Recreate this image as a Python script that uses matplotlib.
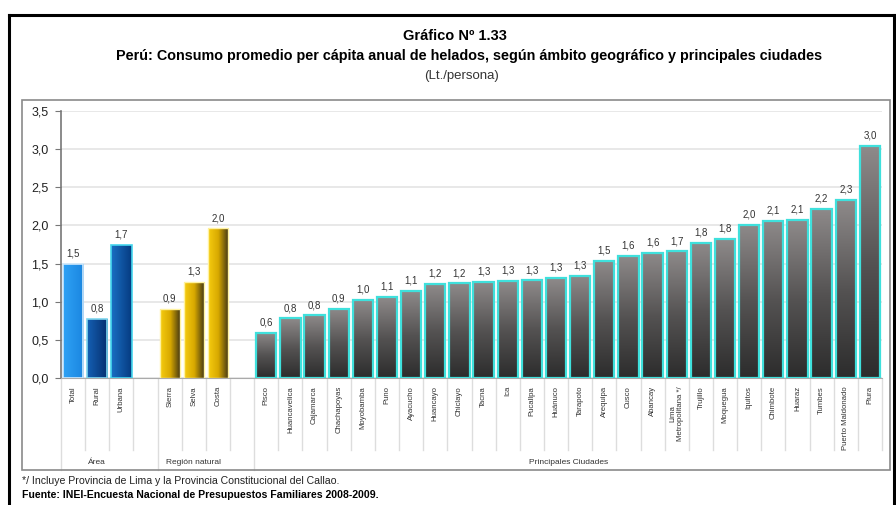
import numpy as np
import matplotlib
matplotlib.use("Agg")
import matplotlib.pyplot as plt
from matplotlib.colors import LinearSegmentedColormap
from matplotlib.patches import Rectangle
from matplotlib.lines import Line2D
import matplotlib.transforms as mtransforms
from matplotlib import font_manager

# ---- data -------------------------------------------------------------
area_labels = ["Total", "Rural", "Urbana"]
area_values = [1.50, 0.77, 1.74]

region_labels = ["Sierra", "Selva", "Costa"]
region_values = [0.91, 1.26, 1.96]

city_labels = ["Pisco", "Huancavelica", "Cajamarca", "Chachapoyas", "Moyobamba",
               "Puno", "Ayacucho", "Huancayo", "Chiclayo", "Tacna", "Ica",
               "Pucallpa", "Huánuco", "Tarapoto", "Arequipa", "Cusco", "Abancay",
               "Lima\nMetropolitana */", "Trujillo", "Moquegua", "Iquitos",
               "Chimbote", "Huaraz", "Tumbes", "Puerto Maldonado", "Piura"]
city_values = [0.59, 0.78, 0.82, 0.91, 1.02, 1.06, 1.14, 1.23, 1.24, 1.26, 1.27,
               1.28, 1.31, 1.34, 1.54, 1.60, 1.64, 1.66, 1.77, 1.82, 2.01, 2.06,
               2.07, 2.22, 2.33, 3.04]

group_names = ["Área", "Región natural", "Principales Ciudades"]
y_ticks = [0.0, 0.5, 1.0, 1.5, 2.0, 2.5, 3.0, 3.5]

title = "Gráfico Nº 1.33"
subtitle = "Perú: Consumo promedio per cápita anual de helados, según ámbito geográfico y principales ciudades"
unit = "(Lt./persona)"
note = "*/ Incluye Provincia de Lima y la Provincia Constitucional del Callao."
source = "Fuente: INEI-Encuesta Nacional de Presupuestos Familiares 2008-2009."

# ---- fonts ------------------------------------------------------------
names = {f.name for f in font_manager.fontManager.ttflist}
narrow = "Liberation Sans Narrow" if "Liberation Sans Narrow" in names else "Liberation Sans"
plt.rcParams["font.family"] = [narrow, "DejaVu Sans"]

W, H = 896, 505
fig = plt.figure(figsize=(W / 100, H / 100), dpi=100)
fig.patch.set_facecolor("white")


def fx(px):
    return px / W


def fy(py):
    return 1 - py / H


# outer frame and plot frame
fig.add_artist(Line2D([fx(9), fx(9)], [fy(15), fy(520)], color="black", lw=2.2))
fig.add_artist(Line2D([fx(9), fx(894)], [fy(15), fy(15)], color="black", lw=2.2))
fig.add_artist(Line2D([fx(894), fx(894)], [fy(15), fy(520)], color="black", lw=2.2))
fig.add_artist(Rectangle((fx(22), fy(470)), fx(890) - fx(22), fy(100) - fy(470),
                         transform=fig.transFigure, fill=False, ec="#8a8a8a", lw=1.2))

# titles
fig.text(fx(455), fy(36), title, ha="center", va="center", fontsize=10.5, fontweight="bold")
fig.text(fx(469), fy(56), subtitle, ha="center", va="center", fontsize=10.4, fontweight="bold")
fig.text(fx(461), fy(76), unit, ha="center", va="center", fontsize=9.5, color="#333333")
fig.text(fx(22), fy(481), note, ha="left", va="center", fontsize=7.6, color="#222222")
fig.text(fx(22), fy(495), source, ha="left", va="center", fontsize=7.6, fontweight="bold")

# ---- axes -------------------------------------------------------------
ax_left, ax_right = 61, 882
ax_top, ax_bot = 111, 378
ax = fig.add_axes([fx(ax_left), fy(ax_bot), fx(ax_right) - fx(ax_left), fy(ax_top) - fy(ax_bot)])

n_slots = len(area_values) + 1 + len(region_values) + 1 + len(city_values)
area_x = np.arange(len(area_values))
region_x = np.arange(len(region_values)) + len(area_values) + 1
city_x = np.arange(len(city_values)) + len(area_values) + len(region_values) + 2

ax.set_xlim(-0.5, n_slots - 0.5)
ax.set_ylim(0, 3.5)
ax.set_yticks(y_ticks)
ax.set_yticklabels([f"{t:.1f}".replace(".", ",") for t in y_ticks], fontsize=9, color="#222222")
ax.tick_params(axis="y", direction="out", length=4, color="#777777", pad=5)
ax.set_xticks([])
ax.grid(axis="y", color="#e4e4e4", lw=1.2)
ax.set_axisbelow(True)
for s in ["top", "right"]:
    ax.spines[s].set_visible(False)
ax.spines["left"].set_color("#777777")
ax.spines["bottom"].set_color("#aaaaaa")
ax.spines["left"].set_linewidth(1.2)

bw = 0.84


def gradient_bars(xs, vals, cmaps, direction, edge, lw):
    bars = ax.bar(xs, vals, width=bw, facecolor="none", edgecolor=edge, linewidth=lw, zorder=3)
    for b, cm in zip(bars, cmaps):
        x0, y0 = b.get_xy()
        w, h = b.get_width(), b.get_height()
        if direction == "h":
            g = np.linspace(0, 1, 128).reshape(1, -1)
        else:
            g = np.linspace(0, 1, 128).reshape(-1, 1)
        im = ax.imshow(g, extent=[x0, x0 + w, y0, y0 + h], origin="lower", cmap=cm,
                       aspect="auto", zorder=2.5, interpolation="bilinear")
        im.set_clip_path(b)
    return bars


blue_maps = [LinearSegmentedColormap.from_list("t", ["#2fa2f5", "#1a86e0"]),
             LinearSegmentedColormap.from_list("r", ["#1460b4", "#062f6e"]),
             LinearSegmentedColormap.from_list("u", ["#1a6fc4", "#053a80"])]
gold = LinearSegmentedColormap.from_list("g", ["#f7cd10", "#d7a800", "#3d3214"])
gray = LinearSegmentedColormap.from_list("k", ["#2c2c2c", "#555353", "#8e8a8a"])

gradient_bars(area_x, area_values, blue_maps, "h", ["#cfe8fb", "#7fd7ef", "#45d6ee"], 1.2)
gradient_bars(region_x, region_values, [gold] * 3, "h", "#fff2a0", 1.0)
gradient_bars(city_x, city_values, [gray] * len(city_values), "v", "#3fe0dc", 1.6)

ax.set_xlim(-0.5, n_slots - 0.5)
ax.set_ylim(0, 3.5)


def lab(v):
    return f"{v:.1f}".replace(".", ",")


for xs, vals in [(area_x, area_values), (region_x, region_values), (city_x, city_values)]:
    for x, v in zip(xs, vals):
        ax.text(x, v + 0.07, lab(v), ha="center", va="bottom", fontsize=7, color="#333333")

# ---- category axis below the bars ------------------------------------
tr = mtransforms.blended_transform_factory(ax.transData, ax.transAxes)
px_h = ax_bot - ax_top


def ay(py):
    return -(py - ax_bot) / px_h


group_edges = [-0.5, region_x[0] - 0.5, city_x[0] - 0.5]
for k in range(n_slots + 1):
    xb = k - 0.5
    bottom = 470 if xb in group_edges else 450
    ax.add_line(Line2D([xb, xb], [ay(379), ay(bottom)], transform=tr, color="#dddddd",
                       lw=1.0, clip_on=False))

for xs, labels in [(area_x, area_labels), (region_x, region_labels), (city_x, city_labels)]:
    for x, t in zip(xs, labels):
        ax.text(x, ay(386), t, transform=tr, rotation=90, ha="center", va="top",
                fontsize=5.6, color="#333333", clip_on=False, linespacing=1.0)

group_centers = [area_x.mean(), region_x.mean(), city_x.mean()]
for c, g in zip(group_centers, group_names):
    ax.text(c, ay(462), g, transform=tr, ha="center", va="center", fontsize=6,
            color="#333333", clip_on=False)

fig.savefig("out.png", dpi=100, facecolor="white")
